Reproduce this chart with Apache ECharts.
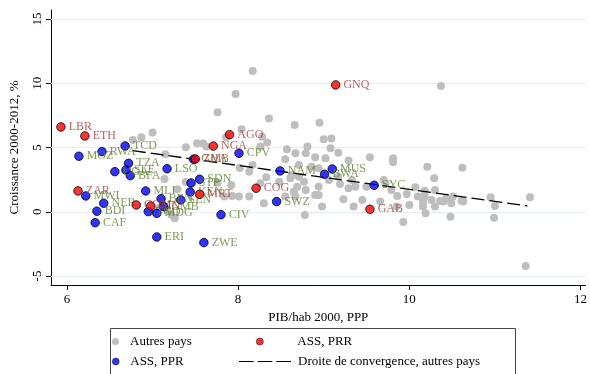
<!DOCTYPE html>
<html>
<head>
<meta charset="utf-8">
<script src="https://cdn.jsdelivr.net/npm/echarts@6/dist/echarts.min.js"></script>
<style>
  html, body { margin: 0; padding: 0; background: #fff; }
  #chart { width: 590px; height: 374px; }
</style>
</head>
<body>
<div id="chart"></div>
<script>
// Tick labels on both axes
const xTicks = [6, 8, 10, 12];
const yTicks = [-5, 0, 5, 10, 15];

// Other countries: [log GDP per capita 2000, growth 2000-2012 %]
const autresPays = [
  [8.17, 10.96], [10.37, 9.79], [7.97, 9.17], [7.76, 7.74], [8.36, 7.26],
  [8.66, 6.75], [8.95, 6.93], [8.04, 6.42], [7.00, 6.16], [6.87, 5.80],
  [6.77, 5.59], [7.15, 4.47], [7.52, 5.33], [7.59, 5.33], [7.63, 5.08],
  [7.86, 5.80], [8.28, 5.84], [8.34, 5.38], [8.26, 5.07], [8.57, 4.86],
  [8.67, 4.55], [8.81, 5.07], [8.79, 4.55], [9.00, 5.64], [9.09, 5.70],
  [9.08, 4.94], [9.17, 4.60], [8.90, 4.24], [9.02, 4.16], [9.54, 4.24],
  [8.55, 4.09], [9.81, 4.16], [9.81, 3.85], [9.29, 3.98], [10.21, 3.51],
  [10.62, 3.43], [10.29, 2.61], [9.70, 2.47], [9.79, 1.70], [10.07, 1.91],
  [10.18, 1.64], [10.30, 1.70], [9.97, 1.39], [9.86, 1.23], [10.18, 1.18],
  [10.26, 0.92], [10.36, 0.84], [10.43, 1.05], [10.51, 1.18], [10.61, 0.86],
  [10.49, 0.66], [10.16, 0.79], [10.16, 0.40], [10.30, 0.40], [10.00, 0.53],
  [9.66, 0.79], [10.95, 1.13], [11.00, 0.45], [11.41, 1.13], [10.19, -0.12],
  [10.48, -0.38], [10.99, -0.46], [9.93, -0.79], [11.36, -4.22], [8.71, 3.64],
  [8.86, 3.51], [8.94, 3.39], [8.63, 2.86], [8.71, 2.73], [8.77, 2.34],
  [8.69, 1.95], [8.94, 1.95], [9.06, 2.47], [9.19, 2.16], [9.29, 1.83],
  [9.37, 1.95], [9.50, 1.95], [9.72, 2.22], [8.94, 1.31], [9.23, 0.97],
  [9.35, 0.40], [8.98, 0.40], [8.78, -0.25], [8.65, 1.56], [9.85, 0.40],
  [10.10, 1.18], [10.40, 0.79], [10.63, 0.79], [8.17, 3.64], [8.13, 3.12],
  [8.26, 2.22], [8.33, 2.68], [8.48, 2.34], [8.61, 2.61], [8.79, 1.70],
  [8.90, 1.31], [8.55, 1.18], [8.67, 1.18], [9.45, 0.92], [9.17, 2.73],
  [9.33, 2.47], [8.13, 1.18], [8.30, 0.66], [8.01, 1.18], [7.14, 2.55],
  [7.29, 1.75], [7.39, 2.32], [7.76, 2.26], [7.92, 2.09], [7.84, 1.18],
  [7.22, -0.25], [7.26, -0.51], [7.08, 0.30], [7.17, 0.14], [7.93, 1.23],
  [7.39, 5.02], [8.02, 3.40]
];

// Sub-Saharan Africa, resource-poor countries
const pprNames = ['TCD', 'RWA', 'MOZ', 'TZA', 'UGA', 'SLE', 'BFA', 'LSO', 'SDN', 'STP',
                  'KEN', 'MLI', 'BEN', 'SEN', 'MWI', 'NER', 'BDI', 'CAF', 'ERI', 'ZWE',
                  'CIV', 'GMB', 'TGO', 'MDG', 'CPV', 'NAM', 'BWA', 'MUS', 'SYC', 'SWZ', 'GHA'];
const pprX = [6.68, 6.41, 6.14, 6.72, 6.56, 6.69, 6.74, 7.17, 7.55, 7.45,
              7.44, 6.92, 7.10, 7.33, 6.22, 6.43, 6.35, 6.33, 7.05, 7.60,
              7.80, 7.13, 6.95, 7.05, 8.01, 8.49, 9.01, 9.10, 9.59, 8.45, 7.48];
const pprY = [5.12, 4.68, 4.32, 3.77, 3.12, 3.25, 2.81, 3.35, 2.53, 2.24,
              1.54, 1.62, 1.02, 0.92, 1.23, 0.66, 0.04, -0.85, -1.96, -2.40,
              -0.23, 0.40, 0.01, -0.12, 4.55, 3.18, 2.92, 3.33, 2.06, 0.79, 4.09];

// Sub-Saharan Africa, resource-rich countries
const prrNames = ['LBR', 'ETH', 'ZAR', 'COM', 'GIN', 'NGA', 'AGO', 'COG', 'GNQ', 'GAB', 'MRT', 'ZMB'];
const prrX = [5.93, 6.21, 6.13, 6.81, 6.98, 7.71, 7.90, 8.21, 9.14, 9.54, 7.55, 7.50];
const prrY = [6.60, 5.90, 1.62, 0.53, 0.45, 5.11, 6.00, 1.83, 9.87, 0.19, 1.36, 4.10];

// Convergence line fitted on the other countries (end points)
const droiteX = [6.77, 11.38];
const droiteY = [4.75, 0.45];

const zip = (xs, ys, names) => xs.map((x, i) => names ? { value: [x, ys[i]], name: names[i] } : [x, ys[i]]);

const serif = 'Liberation Serif';
const chart = echarts.init(document.getElementById('chart'), null, { renderer: 'canvas' });

const labelOpt = (color) => ({
  show: true, position: 'right', distance: 3,
  formatter: (p) => p.name,
  color: color, fontFamily: serif, fontSize: 12
});

const legendText = (padLeft) => ({ fontFamily: serif, fontSize: 13, color: '#000', padding: [0, 0, 0, padLeft] });

chart.setOption({
  animation: false,
  backgroundColor: '#fff',
  grid: { left: 51, right: 2, top: 10, bottom: 89 },
  xAxis: {
    type: 'value', min: 5.814, max: 12.06,
    name: 'PIB/hab 2000, PPP', nameLocation: 'middle', nameGap: 23,
    nameTextStyle: { fontFamily: serif, fontSize: 13, color: '#000' },
    axisLine: { show: true, onZero: false, lineStyle: { color: '#000', width: 1 } },
    axisTick: { show: true, length: 5, customValues: xTicks, lineStyle: { color: '#000' } },
    axisLabel: { customValues: xTicks, fontFamily: serif, fontSize: 13, color: '#000', margin: 8 },
    splitLine: { show: false }
  },
  yAxis: {
    type: 'value', min: -5.7, max: 15.7,
    name: 'Croissance 2000-2012, %', nameLocation: 'middle', nameGap: 30,
    nameTextStyle: { fontFamily: serif, fontSize: 13, color: '#000' },
    axisLine: { show: true, onZero: false, lineStyle: { color: '#000', width: 1 } },
    axisTick: { show: true, length: 5, customValues: yTicks, lineStyle: { color: '#000' } },
    axisLabel: { customValues: yTicks, rotate: 90, fontFamily: serif, fontSize: 13, color: '#000', margin: 7 },
    splitLine: { show: false }
  },
  legend: [
    { left: 107, top: 330, itemWidth: 7, itemHeight: 7, itemGap: 0, icon: 'circle',
      data: ['Autres pays'], textStyle: legendText(6) },
    { left: 107, top: 350, itemWidth: 7, itemHeight: 7, itemGap: 0, icon: 'circle',
      itemStyle: { borderWidth: 0.5 },
      data: ['ASS, PPR'], textStyle: legendText(6) },
    { left: 251, top: 330, itemWidth: 7, itemHeight: 7, itemGap: 0, icon: 'circle',
      itemStyle: { borderWidth: 0.6 },
      data: ['ASS, PRR'], textStyle: legendText(29) },
    { left: 234, top: 350, itemWidth: 52, itemHeight: 1.6, itemGap: 0,
      icon: 'path://M0,0H15V1H0Z M19,0H34V1H19Z M38,0H53V1H38Z',
      data: ['Droite de convergence, autres pays'], textStyle: legendText(2) }
  ],
  graphic: [
    { type: 'rect', left: 108, top: 326, shape: { width: 405, height: 52 },
      style: { fill: 'none', stroke: '#444', lineWidth: 1 }, silent: true }
  ],
  series: [
    {
      name: 'Autres pays', type: 'scatter', symbolSize: 8, z: 2,
      itemStyle: { color: '#bebebe', opacity: 1 },
      data: autresPays,
      markLine: {
        silent: true, symbol: 'none', z: 1,
        lineStyle: { color: '#e4eef1', width: 1, type: 'solid' },
        label: { show: false },
        data: yTicks.map(v => ({ yAxis: v }))
      }
    },
    {
      name: 'Droite de convergence, autres pays', type: 'line', z: 3,
      symbol: 'none', showSymbol: false,
      lineStyle: { color: '#000', width: 1.3, type: [13, 5] },
      itemStyle: { color: '#000' },
      data: zip(droiteX, droiteY)
    },
    {
      name: 'ASS, PPR', type: 'scatter', symbolSize: 8.5, z: 4,
      itemStyle: { color: '#0000ff', borderColor: '#000', borderWidth: 1 },
      label: labelOpt('#5e7f2f'),
      data: zip(pprX, pprY, pprNames)
    },
    {
      name: 'ASS, PRR', type: 'scatter', symbolSize: 8.5, z: 5,
      itemStyle: { color: '#ff0000', borderColor: '#000', borderWidth: 1 },
      label: labelOpt('#9e3b3b'),
      data: zip(prrX, prrY, prrNames)
    }
  ]
});
</script>
</body>
</html>
